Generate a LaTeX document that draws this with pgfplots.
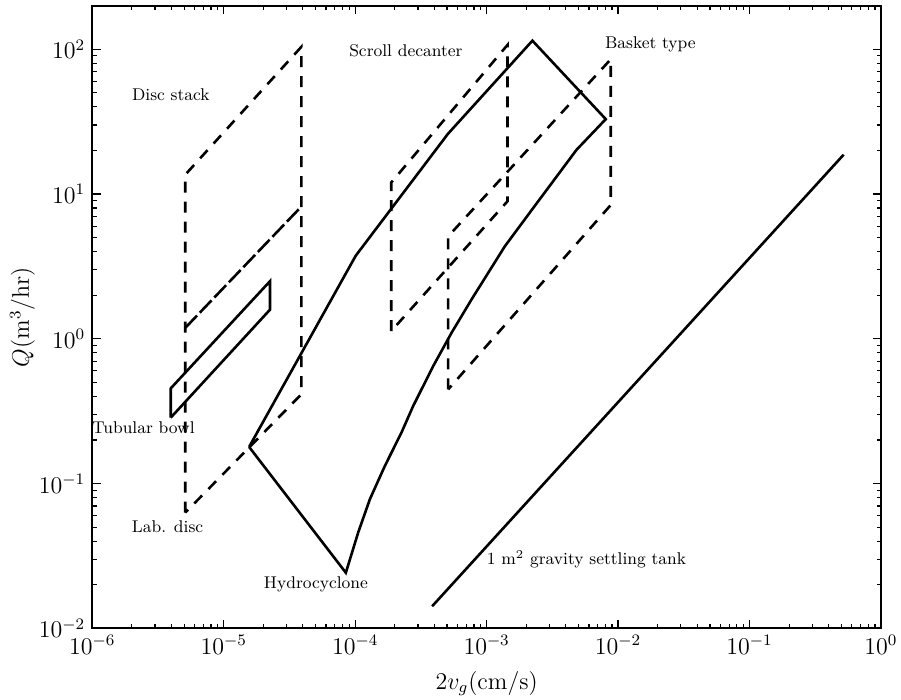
\documentclass[border=0pt]{standalone}
\usepackage{pgfplots}
\pgfplotsset{compat=1.18}
\tikzset{dsh/.style={dash pattern=on 5.5pt off 4.5pt},
         ldsh/.style={dash pattern=on 8.5pt off 2pt}}
\begin{document}
\begin{tikzpicture}
\begin{axis}[
 xmode=log, ymode=log,
 scale only axis, width=394.35pt, height=311.15pt,
 xmin=1e-6, xmax=1, ymin=1e-2, ymax=199,
 tick align=inside,
 major tick length=4.2pt, minor tick length=2.2pt,
 every tick/.style={black, line width=0.6pt},
 axis line style={line width=0.8pt},
 tick label style={font=\fontsize{11.6}{13}\selectfont},
 label style={font=\fontsize{11.6}{13}\selectfont},
 xlabel={$2v_g(\mathrm{cm/s})$},
 ylabel={$Q(\mathrm{m}^3/\mathrm{hr})$},
 xlabel style={at={(axis description cs:0.5,-0.0887)},anchor=center},
 ylabel style={at={(axis description cs:-0.0885,0.5)},anchor=center},
 ytick={0.01,0.1,1,10,100},
 xtick={1e-6,1e-5,1e-4,1e-3,1e-2,1e-1,1},
 every axis plot/.append style={line width=1.3pt, black, no markers},
]
% Disc stack / Lab. disc (dashed parallelogram)
\addplot[black, dsh] coordinates {(5.1e-6,0.063) (5.1e-6,13.6) (3.9e-5,104) (3.9e-5,0.414) (5.1e-6,0.063)};
% Disc stack lower bound (long dashes)
\addplot[black, ldsh] coordinates {(5.1e-6,1.19) (3.9e-5,8.2)};
% Tubular bowl
\addplot[black, solid] coordinates {(3.95e-6,0.285) (3.95e-6,0.454) (2.25e-5,2.50) (2.25e-5,1.59) (3.95e-6,0.285)};
% Hydrocyclone
\addplot[black, solid] coordinates {(1.56e-5,0.179) (1.01e-4,3.75) (5.07e-4,26) (2.23e-3,114.6) (8.06e-3,32.9)
 (4.83e-3,20.2) (2.26e-3,8.0) (1.375e-3,4.35) (7.68e-4,1.87) (5.41e-4,1.10) (3.92e-4,0.647)
 (2.76e-4,0.343) (2.25e-4,0.225) (1.68e-4,0.132) (1.294e-4,0.078) (1.054e-4,0.0459)
 (8.49e-5,0.0242) (1.56e-5,0.179)};
% Scroll decanter
\addplot[black, dsh] coordinates {(1.88e-4,1.13) (1.88e-4,12.0) (1.44e-3,107) (1.44e-3,8.9) (1.88e-4,1.13)};
% Basket type
\addplot[black, dsh] coordinates {(5.1e-4,0.447) (5.1e-4,5.1) (8.8e-3,85.3) (8.8e-3,8.4) (5.1e-4,0.447)};
% 1 m^2 gravity settling tank
\addplot[black, solid] coordinates {(3.85e-4,0.0142) (0.52,18.7)};

\begin{scope}[every node/.style={font=\fontsize{8.5}{10}\selectfont, inner sep=0pt}]
\node at (axis cs:3.96e-6,48.4) {Disc stack};
\node at (axis cs:2.43e-4,98.4) {Scroll decanter};
\node at (axis cs:1.76e-2,108.9) {Basket type};
\node at (axis cs:2.45e-6,0.2445) {Tubular bowl};
\node at (axis cs:3.74e-6,0.05) {Lab. disc};
\node at (axis cs:5.03e-5,0.0202) {Hydrocyclone};
\node at (axis cs:5.75e-3,0.030) {1 m$^2$ gravity settling tank};
\end{scope}
\end{axis}
\pgfresetboundingbox
\path[use as bounding box] ([xshift=-46.15pt,yshift=-35.85pt]current axis.south west) rectangle ([xshift=10pt,yshift=3pt]current axis.north east);
\end{tikzpicture}
\end{document}
